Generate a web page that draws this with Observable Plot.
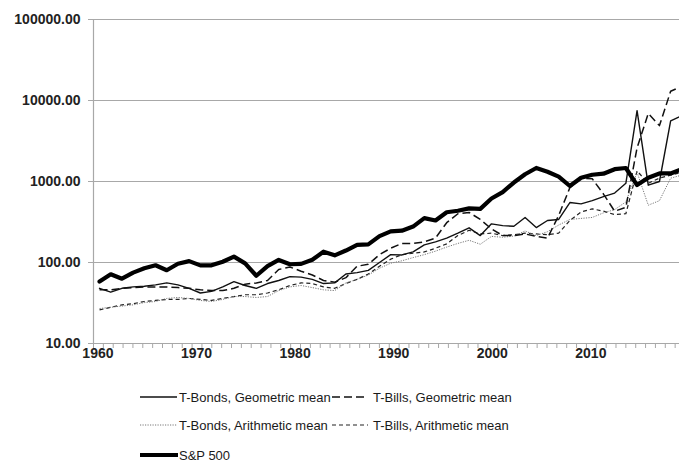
<!DOCTYPE html>
<html>
<head>
<meta charset="utf-8">
<script src="https://cdn.jsdelivr.net/npm/d3@7"></script>
<script src="https://cdn.jsdelivr.net/npm/@observablehq/plot@0.6"></script>
<style>
  html, body { margin: 0; padding: 0; background: #fff; overflow: hidden; }
  #wrap { width: 679px; position: relative; }
  #legend { position: relative; width: 679px; height: 92px; font-family: "Liberation Sans", Arial, sans-serif; font-size: 13px; color: #1a1a1a; }
  .item { position: absolute; display: flex; align-items: center; height: 16px; white-space: nowrap; }
  .item svg { display: block; }
</style>
</head>
<body>
<div id="wrap"></div>
<script>
// ---- data ----
const years = [1960,1961,1962,1963,1964,1965,1966,1967,1968,1969,
               1970,1971,1972,1973,1974,1975,1976,1977,1978,1979,
               1980,1981,1982,1983,1984,1985,1986,1987,1988,1989,
               1990,1991,1992,1993,1994,1995,1996,1997,1998,1999,
               2000,2001,2002,2003,2004,2005,2006,2007,2008,2009,
               2010,2011,2012];

const sp500 = [58.1,71.6,63.1,75.0,84.8,92.4,80.3,96.5,103.9,92.1,
               92.2,102.1,118.1,97.6,68.6,90.2,107.5,95.1,96.1,107.9,
               135.8,122.6,140.6,164.9,167.2,211.3,242.2,247.1,277.7,353.4,
               330.2,417.1,435.7,466.5,459.3,615.9,740.7,970.4,1229.2,1469.3,
               1320.3,1148.1,879.8,1111.9,1211.9,1248.3,1418.3,1468.4,903.3,1115.1,
               1257.6,1257.6,1426.2];

const tBondsGeo = [48,43,48,50,51,53,56,53,48,42,
                   44,50,58,52,48,55,60,67,66,62,
                   55,56,72,75,80,100,125,124,135,165,
                   180,200,230,268,215,300,285,280,360,270,
                   330,340,550,530,580,650,720,950,7500,900,
                   1000,5600,6500];

const tBillsGeo = [46,46,48,49,50,50,50,49,48,46,
                   45,45,48,54,56,60,82,88,78,70,
                   60,57,65,90,95,125,150,172,172,180,
                   200,310,400,415,340,260,215,215,225,210,
                   200,380,840,1100,1080,700,430,480,2600,6900,
                   4900,13000,15000];

const tBondsArith = [27,28,29,30,32,33,36,37,36,34,
                     33,35,38,38,37,38,45,50,52,49,
                     46,45,56,62,70,85,98,105,115,125,
                     138,155,172,188,168,210,205,212,245,215,
                     240,290,340,350,360,410,450,560,1300,510,
                     580,1100,1200];

const tBillsArith = [26,28,30,31,33,34,35,35,36,35,
                     34,36,38,40,40,42,46,52,56,55,
                     50,48,55,62,72,90,110,125,130,135,
                     150,170,215,250,225,230,215,220,230,225,
                     220,230,330,420,460,430,390,400,1350,950,
                     1100,1200,1300];

const yTicks = [10, 100, 1000, 10000, 100000];
const xLabels = ["1960","1970","1980","1990","2000","2010"];

const seriesDefs = [
  {name: "T-Bills, Arithmetic mean", values: tBillsArith, stroke: "#222", width: 1.2, dash: "4,3"},
  {name: "T-Bonds, Arithmetic mean", values: tBondsArith, stroke: "#777", width: 1, dash: "1.2,1.3"},
  {name: "T-Bills, Geometric mean", values: tBillsGeo, stroke: "#111", width: 1.5, dash: "8,4"},
  {name: "T-Bonds, Geometric mean", values: tBondsGeo, stroke: "#111", width: 1.4, dash: null},
  {name: "S&P 500", values: sp500, stroke: "#000", width: 4.2, dash: null}
];

// ---- layout of the Excel-like category axis ----
const x0 = 1959.46, x1 = 2011.79;          // data domain shown across the frame
const pxPerYear = 11.2;                    // data spacing in pixels
const slotPx = 9.86;                       // axis category tick spacing in pixels
const slotYears = slotPx / pxPerYear;
const slotTicks = d3.range(0, 60).map(k => x0 + k * slotYears);
const labelPos = xLabels.map((s, i) => ({label: s, pos: x0 + (0.45 + i * 10) * slotYears}));

const table = seriesDefs.map(s => years.map((yr, i) => ({year: yr, value: s.values[i]})));

const gridColor = "#a8a8a8";

const lineMarks = seriesDefs.map((s, k) => Plot.line(table[k], {
  x: "year", y: "value",
  stroke: s.stroke, strokeWidth: s.width,
  strokeDasharray: s.dash || undefined,
  strokeLinejoin: "round", strokeLinecap: s.dash ? "butt" : "round",
  clip: true
}));

const chart = Plot.plot({
  width: 679, height: 370,
  marginLeft: 93, marginRight: 0, marginTop: 19, marginBottom: 27,
  style: {fontFamily: "Liberation Sans, Arial, sans-serif", background: "#fff"},
  x: {domain: [x0, x1], label: null},
  y: {type: "log", domain: [10, 100000], label: null},
  marks: [
    Plot.ruleY(yTicks, {stroke: gridColor, strokeWidth: 1}),
    Plot.ruleX([x0], {stroke: gridColor, strokeWidth: 1.2}),
    Plot.axisY({ticks: yTicks, tickFormat: d => d.toFixed(2), tickSize: 5, tickPadding: 8, label: null,
                stroke: gridColor, fill: "#222", fontSize: 14, fontWeight: "bold"}),
    Plot.axisX({ticks: slotTicks, tickSize: 5, tickFormat: () => "", label: null, stroke: gridColor}),
    Plot.text(labelPos, {x: "pos", text: "label", frameAnchor: "bottom", dy: 14,
                         fontSize: 14, fontWeight: "bold", fill: "#222"}),
    ...lineMarks
  ]
});

document.getElementById("wrap").appendChild(chart);

// ---- legend ----
const legend = document.createElement("div");
legend.id = "legend";
const legendItems = [
  {def: seriesDefs[3], left: 140, top: 27, w: 37, gap: 2},
  {def: seriesDefs[2], left: 332, top: 27, w: 36, gap: 5},
  {def: seriesDefs[1], left: 140, top: 55, w: 37, gap: 2},
  {def: seriesDefs[0], left: 332, top: 55, w: 36, gap: 5},
  {def: seriesDefs[4], left: 140, top: 85, w: 38, gap: 1}
];
legendItems.forEach(it => {
  const d = it.def;
  const div = document.createElement("div");
  div.className = "item";
  div.style.left = it.left + "px";
  div.style.top = (it.top - 8) + "px";
  const w = it.w;
  div.innerHTML = `<svg width="${w}" height="10" style="margin-right:${it.gap}px"><line x1="0" y1="5" x2="${w}" y2="5" stroke="${d.stroke}" stroke-width="${d.width}" ${d.dash ? `stroke-dasharray="${d.dash}"` : ""} stroke-linecap="butt"/></svg><span>${d.name}</span>`;
  legend.appendChild(div);
});
document.getElementById("wrap").appendChild(legend);
</script>
</body>
</html>
